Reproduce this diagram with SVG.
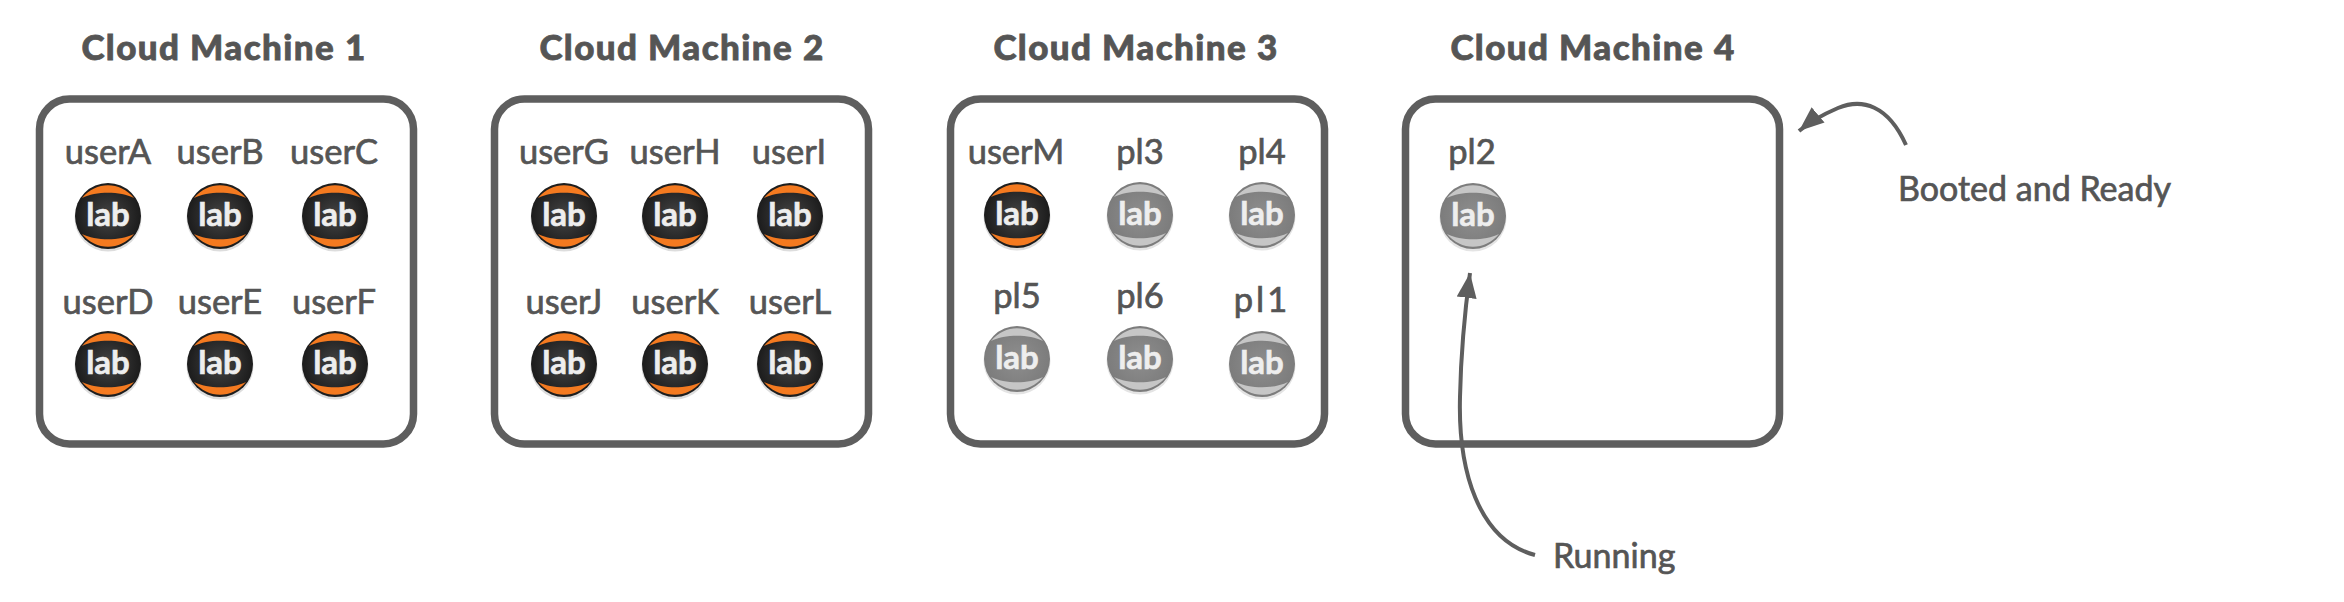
<svg xmlns="http://www.w3.org/2000/svg" width="2344" height="602" viewBox="0 0 2344 602">
<style>
text{font-family:"Lato","Liberation Sans",sans-serif;fill:#555;text-anchor:middle}
.t{font-size:35px;font-weight:900;letter-spacing:1.400px;stroke:#555;stroke-width:.8px}
.l{font-size:34.500px;font-weight:400;stroke:#555;stroke-width:.7px}
.c{font-size:34px;font-weight:400;text-anchor:start;stroke:#555;stroke-width:.7px}
.box{fill:#fff;stroke:#5e5e5e;stroke-width:7.500px}
.lab{font-size:33px;font-weight:700;fill:#eee;stroke:#eee;stroke-width:.6px}
.con{fill:none;stroke:#5e5e5e;stroke-width:4}
</style>
<defs>
<radialGradient id="d"><stop offset="0" stop-color="#444"/><stop offset="1" stop-color="#1c1c1c"/></radialGradient>
<radialGradient id="g"><stop offset="0" stop-color="#8e8e8e"/><stop offset="1" stop-color="#7c7c7c"/></radialGradient>
<marker id="a" markerUnits="userSpaceOnUse" markerWidth="30" markerHeight="26" refX="25" refY="13" orient="auto"><path d="M0 3L25 13L0 23z" fill="#5e5e5e"/></marker>
<symbol id="on" overflow="visible"><circle cx="0" cy="2" r="33.500" fill="#ddd"/><circle r="33" fill="url(#d)"/><path d="M-26 -18C-12 -35 12 -35 26 -18C12 -25 -12 -25 -26 -18zM-26 18C-12 35 12 35 26 18C12 25 -12 25 -26 18z" fill="#f47a20"/><text class="lab" y="10">lab</text></symbol>
<symbol id="off" overflow="visible"><circle cx="0" cy="2" r="33.500" fill="#e4e4e4"/><circle r="33" fill="url(#g)"/><path d="M-26 -18C-12 -35 12 -35 26 -18C12 -25 -12 -25 -26 -18zM-26 18C-12 35 12 35 26 18C12 25 -12 25 -26 18z" fill="#c6c6c6"/><text class="lab" y="10">lab</text></symbol>
</defs>
<rect width="2344" height="602" fill="#fff"/>
<g id="machine1"><text class="t" x="224" y="60">Cloud Machine 1</text><rect class="box" x="39.500" y="99" width="374" height="345" rx="30"/></g>
<g id="machine2"><text class="t" x="682" y="60">Cloud Machine 2</text><rect class="box" x="494.500" y="99" width="374" height="345" rx="30"/></g>
<g id="machine3"><text class="t" x="1136" y="60">Cloud Machine 3</text><rect class="box" x="950.500" y="99" width="374" height="345" rx="30"/></g>
<g id="machine4"><text class="t" x="1593" y="60">Cloud Machine 4</text><rect class="box" x="1405.500" y="99" width="374" height="345" rx="30"/></g>
<g id="userA"><text class="l" x="108" y="164">userA</text><use href="#on" x="108" y="216"/></g>
<g id="userB"><text class="l" x="220" y="164">userB</text><use href="#on" x="220" y="216"/></g>
<g id="userC"><text class="l" x="334" y="164">userC</text><use href="#on" x="335" y="216"/></g>
<g id="userD"><text class="l" x="108" y="314">userD</text><use href="#on" x="108" y="364"/></g>
<g id="userE"><text class="l" x="220" y="314">userE</text><use href="#on" x="220" y="364"/></g>
<g id="userF"><text class="l" x="334" y="314">userF</text><use href="#on" x="335" y="364"/></g>
<g id="userG"><text class="l" x="564" y="164">userG</text><use href="#on" x="564" y="216"/></g>
<g id="userH"><text class="l" x="675" y="164">userH</text><use href="#on" x="675" y="216"/></g>
<g id="userI"><text class="l" x="789" y="164">userI</text><use href="#on" x="790" y="216"/></g>
<g id="userJ"><text class="l" x="564" y="314">userJ</text><use href="#on" x="564" y="364"/></g>
<g id="userK"><text class="l" x="675" y="314">userK</text><use href="#on" x="675" y="364"/></g>
<g id="userL"><text class="l" x="790" y="314">userL</text><use href="#on" x="790" y="364"/></g>
<g id="userM"><text class="l" x="1016" y="164">userM</text><use href="#on" x="1017" y="215"/></g>
<g id="pl3"><text class="l" x="1140" y="164">pl3</text><use href="#off" x="1140" y="215"/></g>
<g id="pl4"><text class="l" x="1262" y="164">pl4</text><use href="#off" x="1262" y="215"/></g>
<g id="pl5"><text class="l" x="1017" y="308">pl5</text><use href="#off" x="1017" y="359"/></g>
<g id="pl6"><text class="l" x="1140" y="308">pl6</text><use href="#off" x="1140" y="359"/></g>
<g id="pl1"><text class="l" x="1262" y="312" letter-spacing="3">pl1</text><use href="#off" x="1262" y="364"/></g>
<g id="pl2"><text class="l" x="1472" y="164">pl2</text><use href="#off" x="1473" y="216"/></g>
<g id="connectors">
<path class="con" marker-end="url(#a)" d="M1906 145C1888 105 1862 98 1838 108C1824 114 1812 120 1799 131"/>
<path class="con" marker-end="url(#a)" d="M1535 555C1478 540 1458 470 1460 397C1461 350 1465 310 1470 273"/>
</g>
<g id="status"><text class="c" x="1898" y="201">Booted and Ready</text><text class="c" x="1553" y="568">Running</text></g>
</svg>
